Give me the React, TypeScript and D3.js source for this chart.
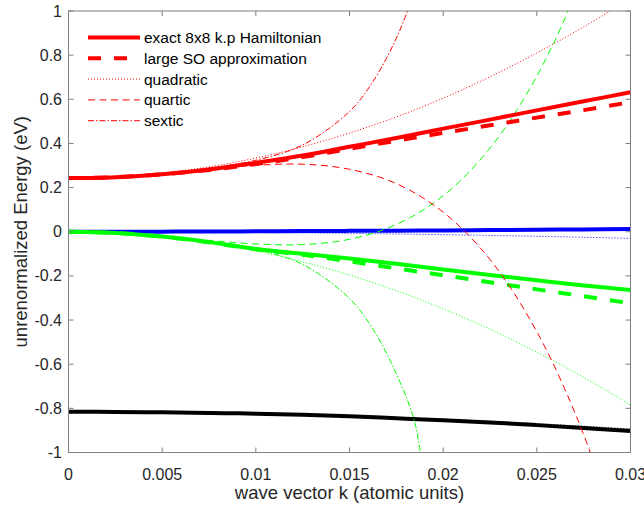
import React from "react";
import * as d3 from "d3";

const W = 644;
const H = 511;

// wave vector grids (atomic units)
const K = [0, 0.0025, 0.005, 0.0075, 0.01, 0.0125, 0.015, 0.0175, 0.02, 0.0225, 0.025, 0.0275, 0.03];
const KS = [0, 0.0025, 0.005, 0.0075, 0.01, 0.0125, 0.015, 0.01625, 0.0175, 0.0185, 0.019];

// conduction band (red)
const redExact = [0.243, 0.247, 0.26, 0.282, 0.312, 0.345, 0.385, 0.425, 0.467, 0.508, 0.55, 0.591, 0.632];
const redLargeSO = [0.243, 0.247, 0.26, 0.28, 0.307, 0.338, 0.376, 0.412, 0.448, 0.482, 0.517, 0.551, 0.587];
const redQuadratic = [0.243, 0.249, 0.266, 0.294, 0.334, 0.385, 0.447, 0.52, 0.605, 0.702, 0.81, 0.928, 1.058];
const redQuartic = [0.243, 0.249, 0.264, 0.284, 0.301, 0.306, 0.283, 0.218, 0.089, -0.126, -0.453, -0.919, -1.558];
const redSextic = [0.243, 0.249, 0.264, 0.288, 0.324, 0.393, 0.545, 0.68, 0.877, 1.095, 1.229];

// light hole (green)
const greenExact = [0, -0.0055, -0.022, -0.047, -0.078, -0.1, -0.121, -0.145, -0.171, -0.196, -0.22, -0.243, -0.264];
const greenLargeSO = [0, -0.0055, -0.022, -0.048, -0.079, -0.104, -0.134, -0.166, -0.197, -0.229, -0.261, -0.292, -0.324];
const greenQuadratic = [0, -0.005, -0.022, -0.049, -0.087, -0.136, -0.196, -0.267, -0.349, -0.441, -0.545, -0.659, -0.785];
const greenQuartic = [0, -0.005, -0.02, -0.039, -0.055, -0.058, -0.034, 0.033, 0.163, 0.379, 0.705, 1.171, 1.807];
const greenSextic = [0, -0.005, -0.02, -0.043, -0.079, -0.148, -0.302, -0.441, -0.644, -0.868, -1.164];

// heavy hole (blue)
const blueExact = [0, 0, 0.0005, 0.001, 0.002, 0.003, 0.004, 0.005, 0.006, 0.0075, 0.009, 0.0105, 0.012];
const blueQuadratic = [0, -0.0002, -0.0008, -0.0019, -0.0033, -0.0052, -0.0074, -0.0101, -0.0132, -0.0167, -0.0206, -0.025, -0.03];

// split-off (black)
const blackExact = [-0.815, -0.816, -0.818, -0.821, -0.824, -0.829, -0.836, -0.845, -0.854, -0.864, -0.876, -0.889, -0.903];
const blackQuadratic = [-0.815, -0.8155, -0.817, -0.82, -0.824, -0.829, -0.835, -0.842, -0.85, -0.859, -0.869, -0.881, -0.893];

const xTicks = [0, 0.005, 0.01, 0.015, 0.02, 0.025, 0.03];
const xTickLabels = ["0", "0.005", "0.01", "0.015", "0.02", "0.025", "0.03"];
const yTicks = [-1, -0.8, -0.6, -0.4, -0.2, 0, 0.2, 0.4, 0.6, 0.8, 1];
const yTickLabels = ["-1", "-0.8", "-0.6", "-0.4", "-0.2", "0", "0.2", "0.4", "0.6", "0.8", "1"];

const legendLabels = ["exact 8x8 k.p Hamiltonian", "large SO approximation", "quadratic", "quartic", "sextic"];

const FONT = "'Liberation Sans', Arial, Helvetica, sans-serif";

const STYLES: Record<string, { w: number; dash: string | null }> = {
  exact: { w: 4, dash: null },
  largeSO: { w: 4, dash: "13,13" },
  quadratic: { w: 1, dash: "1,2" },
  quartic: { w: 1, dash: "7,4.5" },
  sextic: { w: 1, dash: "6,2,1.5,2" },
};

export default function App() {
  const L = 68.5, R = 630.5, T = 11, B = 452.5;
  const x = d3.scaleLinear().domain([0, 0.03]).range([L, R]);
  const y = d3.scaleLinear().domain([-1, 1]).range([B, T]);

  const mk = (ks: number[], vs: number[]) => {
    const line = d3
      .line<number>()
      .x((_, i) => x(ks[i]))
      .y((v) => y(v))
      .curve(d3.curveCatmullRom.alpha(0.5));
    return line(vs) || "";
  };

  const series: { ks: number[]; vs: number[]; color: string; style: string }[] = [
    { ks: K, vs: blackExact, color: "#000000", style: "exact" },
    { ks: K, vs: blackQuadratic, color: "#000000", style: "quadratic" },
    { ks: K, vs: blueExact, color: "#0000ff", style: "exact" },
    { ks: K, vs: blueQuadratic, color: "#0000ff", style: "quadratic" },
    { ks: K, vs: greenExact, color: "#00ff00", style: "exact" },
    { ks: K, vs: greenLargeSO, color: "#00ff00", style: "largeSO" },
    { ks: K, vs: greenQuadratic, color: "#00ff00", style: "quadratic" },
    { ks: K, vs: greenQuartic, color: "#00ff00", style: "quartic" },
    { ks: KS, vs: greenSextic, color: "#00ff00", style: "sextic" },
    { ks: K, vs: redExact, color: "#ff0000", style: "exact" },
    { ks: K, vs: redLargeSO, color: "#ff0000", style: "largeSO" },
    { ks: K, vs: redQuadratic, color: "#ff0000", style: "quadratic" },
    { ks: K, vs: redQuartic, color: "#ff0000", style: "quartic" },
    { ks: KS, vs: redSextic, color: "#ff0000", style: "sextic" },
  ];

  const legendStyles = ["exact", "largeSO", "quadratic", "quartic", "sextic"];
  const axisColor = "#7f7f7f";
  const textColor = "#262626";
  const tickLen = 5;

  return (
    <svg width={W} height={H} style={{ position: "absolute", left: 0, top: 0, background: "#fff" }}>
      <defs>
        <clipPath id="plotClip">
          <rect x={L} y={T} width={R - L} height={B - T} />
        </clipPath>
      </defs>
      <rect x={0} y={0} width={W} height={H} fill="#fff" />
      <g clipPath="url(#plotClip)">
        {series.map((s, i) => (
          <path
            key={i}
            d={mk(s.ks, s.vs)}
            fill="none"
            stroke={s.color}
            strokeWidth={STYLES[s.style].w}
            strokeDasharray={STYLES[s.style].dash || undefined}
          />
        ))}
      </g>
      {/* box */}
      <rect x={L} y={T} width={R - L} height={B - T} fill="none" stroke={axisColor} strokeWidth={1} />
      {/* x ticks */}
      {xTicks.map((t, i) => (
        <g key={"xt" + i}>
          <line x1={x(t)} x2={x(t)} y1={B} y2={B - tickLen} stroke={axisColor} />
          <line x1={x(t)} x2={x(t)} y1={T} y2={T + tickLen} stroke={axisColor} />
          <text
            x={x(t)}
            y={474}
            textAnchor="middle"
            dominantBaseline="central"
            fontFamily={FONT}
            fontSize={16}
            fill={textColor}
          >
            {xTickLabels[i]}
          </text>
        </g>
      ))}
      {/* y ticks */}
      {yTicks.map((t, i) => (
        <g key={"yt" + i}>
          <line x1={L} x2={L + tickLen} y1={y(t)} y2={y(t)} stroke={axisColor} />
          <line x1={R} x2={R - tickLen} y1={y(t)} y2={y(t)} stroke={axisColor} />
          <text
            x={62}
            y={y(t)}
            textAnchor="end"
            dominantBaseline="central"
            fontFamily={FONT}
            fontSize={16}
            fill={textColor}
          >
            {yTickLabels[i]}
          </text>
        </g>
      ))}
      {/* axis labels */}
      <text x={(L + R) / 2} y={499} textAnchor="middle" fontFamily={FONT} fontSize={18.5} fill={textColor}>
        wave vector k (atomic units)
      </text>
      <text
        transform={`translate(27, ${(T + B) / 2}) rotate(-90)`}
        textAnchor="middle"
        fontFamily={FONT}
        fontSize={18.5}
        fill={textColor}
      >
        unrenormalized Energy (eV)
      </text>
      {/* legend */}
      {legendLabels.map((lab, i) => {
        const cy = 37.5 + i * 20.8;
        const st = STYLES[legendStyles[i]];
        return (
          <g key={"lg" + i}>
            <line
              x1={88}
              x2={140}
              y1={cy}
              y2={cy}
              stroke="#ff0000"
              strokeWidth={st.w}
              strokeDasharray={st.dash || undefined}
            />
            <text x={144} y={cy} dominantBaseline="central" fontFamily={FONT} fontSize={15.5} fill="#000">
              {lab}
            </text>
          </g>
        );
      })}
    </svg>
  );
}
